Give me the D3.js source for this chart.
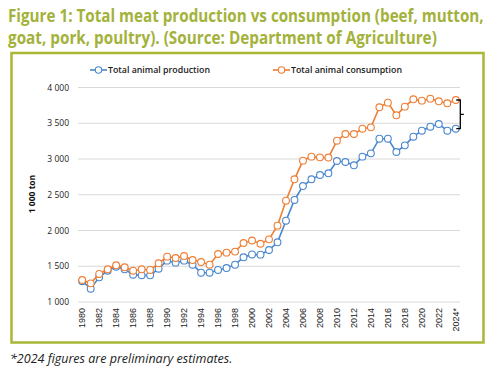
<!DOCTYPE html>
<html><head><meta charset="utf-8">
<script src="https://cdn.jsdelivr.net/npm/d3@7/dist/d3.min.js"></script>
<style>body{margin:0;background:#fff;}svg{display:block;}</style>
</head><body><svg id="c" width="492" height="382"></svg>
<script>
const years = d3.range(1980, 2025);
const yearLabels = years.map(y => y === 2024 ? "2024*" : String(y));
const production = [1290,1186,1345,1438,1494,1457,1382,1373,1373,1466,1578,1550,1578,1522,1410,1410,1448,1475,1522,1625,1665,1662,1727,1835,2137,2427,2622,2716,2776,2800,2972,2958,2912,3033,3079,3284,3284,3098,3191,3312,3396,3452,3489,3396,3424];
const consumption = [1308,1261,1392,1457,1513,1485,1438,1457,1448,1541,1634,1615,1643,1587,1559,1522,1671,1690,1705,1825,1860,1815,1876,2068,2417,2716,2977,3033,3023,3020,3256,3350,3350,3424,3443,3723,3788,3611,3732,3835,3816,3844,3807,3779,3825];
const yTicks = [1000,1500,2000,2500,3000,3500,4000];
const seriesNames = ["Total animal production","Total animal consumption"];
const colors = ["#4a87cc","#ef7d32"];

const svg = d3.select("#c");
const green = "#a9b636";

// fit a text to a target width by horizontal scaling
function fitText(sel, x0, y0, width){
  const w = sel.node().getComputedTextLength();
  const s = Math.min(1, width / w);
  sel.attr("x",0).attr("y",0).attr("transform",`translate(${x0},${y0}) scale(${s},1)`);
}
// title
const title = svg.append("g").attr("font-family","'Open Sans', sans-serif").attr("font-weight","bold").attr("fill","#a3b23a").attr("font-size",17);
fitText(title.append("text").text("Figure 1: Total meat production vs consumption (beef, mutton,"), 8, 22, 476);
fitText(title.append("text").text("goat, pork, poultry). (Source: Department of Agriculture)"), 8, 44, 429);
// frame
svg.append("rect").attr("x",11.5).attr("y",53).attr("width",472).attr("height",289.5).attr("fill","none").attr("stroke",green).attr("stroke-width",2.5);

const x = d3.scalePoint().domain(years).range([82.2, 455.8]);
const y = d3.scaleLinear().domain([1000,4000]).range([302,87.5]);

// grid
svg.append("g").selectAll("line").data(yTicks).join("line")
  .attr("x1",78).attr("x2",460).attr("y1",d=>y(d)).attr("y2",d=>y(d))
  .attr("stroke","#d9d9d9").attr("stroke-width",1);
// y labels
svg.append("g").attr("font-family","'Open Sans', sans-serif").attr("font-size",8.5).attr("fill","#222")
  .selectAll("text").data(yTicks).join("text")
  .attr("x",69).attr("y",d=>y(d)+3).attr("text-anchor","end").text(d=>String(d).replace(/(\d)(\d{3})$/,"$1 $2"));
svg.append("text").attr("transform","translate(35,194) rotate(-90)").attr("text-anchor","middle")
  .attr("font-family","'Open Sans', sans-serif").attr("font-size",8.5).attr("font-weight","bold").attr("fill","#111").text("1 000 ton");
// x labels
svg.append("g").attr("font-family","'Liberation Sans', sans-serif").attr("font-size",9).attr("fill","#222")
  .selectAll("text").data(years.filter((d,i)=>i%2===0)).join("text")
  .attr("transform",d=>`translate(${x(d)+3.2},308) rotate(-90)`).attr("text-anchor","end")
  .text(d=>yearLabels[years.indexOf(d)]);

// series
const line = d3.line().x((d,i)=>x(years[i])).y(d=>y(d));
[production, consumption].forEach((s,k)=>{
  svg.append("path").attr("d",line(s)).attr("fill","none").attr("stroke",colors[k]).attr("stroke-width",1.6);
  svg.append("g").selectAll("circle").data(s).join("circle")
    .attr("cx",(d,i)=>x(years[i])).attr("cy",d=>y(d)).attr("r",3.4)
    .attr("fill","#fff").attr("stroke",colors[k]).attr("stroke-width",1.1);
});

// bracket
const bx = x(2024)+4.5;
const y1 = y(consumption[44]), y2 = y(production[44]);
svg.append("path").attr("d",`M${bx-4},${y1}H${bx}V${y2}H${bx-4}M${bx},${(y1+y2)/2}H${bx+3.5}`)
  .attr("fill","none").attr("stroke","#000").attr("stroke-width",1.3);

// legend
const leg = [{x:90,tx:108},{x:273,tx:291}];
leg.forEach((l,k)=>{
  const g = svg.append("g");
  g.append("line").attr("x1",l.x).attr("x2",l.x+17).attr("y1",70).attr("y2",70).attr("stroke",colors[k]).attr("stroke-width",1.6);
  g.append("circle").attr("cx",l.x+8.5).attr("cy",70).attr("r",3.2).attr("fill","#fff").attr("stroke",colors[k]).attr("stroke-width",1.1);
  g.append("text").attr("x",l.tx).attr("y",73.2).attr("font-family","'Open Sans', sans-serif").attr("font-size",8.8)
    .attr("font-weight","600").attr("fill","#1a1a1a").text(seriesNames[k]);
});

// footnote
const foot = svg.append("text").attr("font-family","'Open Sans', sans-serif").attr("font-style","italic")
  .attr("font-size",12.5).attr("fill","#222").text("*2024 figures are preliminary estimates.");
fitText(foot, 10, 363, 240);
</script></body></html>
